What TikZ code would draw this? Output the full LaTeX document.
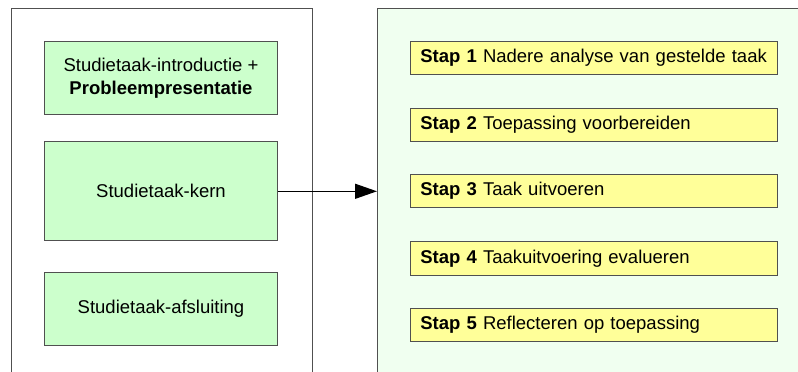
\documentclass[tikz,border=0pt]{standalone}
\usepackage{fontspec}
\setmainfont{Liberation Sans}
\usetikzlibrary{arrows.meta,positioning}
\definecolor{phasegreen}{HTML}{CCFFCC}
\definecolor{stepyellow}{HTML}{FFFF99}
\definecolor{panelgreen}{HTML}{F0FFF0}
\definecolor{edgegray}{HTML}{505050}
\tikzset{
  panel/.style={draw=edgegray, line width=1pt, anchor=north west, inner sep=0pt},
  phasebox/.style={draw=edgegray, fill=phasegreen, line width=1pt,
    minimum width=232.6pt, align=center, inner sep=0pt,
    font=\fontsize{18.5}{22.5}\selectfont},
  stepbox/.style={draw=edgegray, fill=stepyellow, line width=1pt,
    minimum width=367pt, minimum height=33.5pt, text width=347pt,
    inner xsep=10pt, inner ysep=0pt, align=left,
    font=\fontsize{18.5}{22.5}\selectfont},
  flow/.style={line width=1.3pt, -{Triangle[length=22pt,width=15pt]}}
}
\begin{document}
\begin{tikzpicture}[x=1pt,y=-1pt]
  \useasboundingbox (0,0) rectangle (798,372);
  \clip (0,0) rectangle (798,372);
  \fill[white] (0,0) rectangle (798,372);

  % the two panels run past the lower and right edges
  \node[panel, fill=white, minimum width=300.5pt, minimum height=380pt] (phases) at (11,7.5) {};
  \node[panel, fill=panelgreen, minimum width=440pt, minimum height=380pt] (stages) at (377,7.5) {};

  % phases of the study task
  \node[phasebox, minimum height=73.3pt] (intro) at (161,78.3)
    {Studietaak-introductie +\\\textbf{Probleempresentatie}};
  \node[phasebox, minimum height=99.3pt] (kern) at (161,191.3) {Studietaak-kern};
  \node[phasebox, minimum height=72.7pt] (afsl) at (161,308.7) {Studietaak-afsluiting};

  % steps of the core
  \node[stepbox] (s1) at (593.8,57.9) {\textbf{Stap 1} Nadere analyse van gestelde taak};
  \node[stepbox] (s2) at (593.8,125)  {\textbf{Stap 2} Toepassing voorbereiden};
  \node[stepbox] (s3) at (593.8,191.2){\textbf{Stap 3} Taak uitvoeren};
  \node[stepbox] (s4) at (593.8,258.4){\textbf{Stap 4} Taakuitvoering evalueren};
  \node[stepbox] (s5) at (593.8,325)  {\textbf{Stap 5} Reflecteren op toepassing};

  \draw[flow] (kern.east) -- (kern.east -| stages.west);
\end{tikzpicture}
\end{document}
